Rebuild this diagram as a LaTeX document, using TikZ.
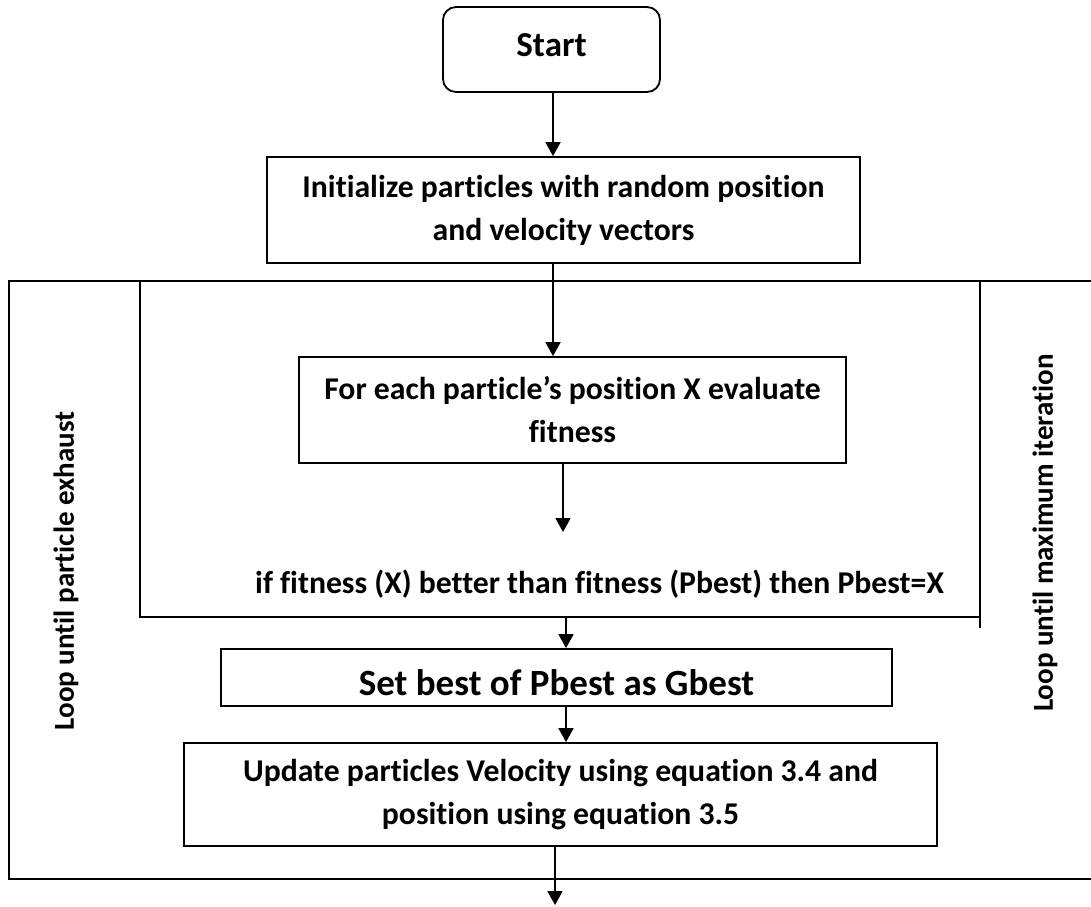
\documentclass[tikz,border=0pt]{standalone}
\usepackage{fontspec}
\setmainfont{Carlito}[Ligatures=NoCommon]
\usetikzlibrary{arrows.meta}
\begin{document}
\begin{tikzpicture}[x=1pt,y=-1pt,
  line width=1.8pt,
  box/.style={draw, rectangle, inner sep=0pt, align=center, font=\bfseries\fontsize{31.7}{43}\selectfont},
  txt/.style={inner sep=0pt, font=\bfseries\fontsize{31.7}{43}\selectfont},
  lab/.style={inner sep=0pt, font=\bfseries\fontsize{29}{35}\selectfont},
  arr/.style={-{Triangle[length=14pt,width=15pt]}},
  ]
\useasboundingbox (0,0) rectangle (1091,906);

% boxes
\node[box, rounded corners=13pt, minimum width=217pt, minimum height=85pt, text height=22.5pt, text depth=8pt, font=\bfseries\fontsize{35}{42}\selectfont] (start) at (551.5,49.5) {Start};
\node[box, minimum width=593pt, minimum height=106pt] (init) at (563.5,210) {Initialize particles with random position\\and velocity vectors};
\node[box, minimum width=547pt, minimum height=106pt] (each) at (572.5,410) {For each particle’s position X evaluate\\fitness};
\node[txt, anchor=base] (cond) at (599.5,593) {if fitness (X) better than fitness (Pbest) then Pbest=X};
\node[box, minimum width=671pt, minimum height=57pt, text height=35pt, text depth=0pt, font=\bfseries\fontsize{37}{44}\selectfont] (gbest) at (556.5,677.5) {Set best of Pbest as Gbest};
\node[box, minimum width=753pt, minimum height=103pt] (update) at (560.5,794.5) {Update particles Velocity using equation 3.4 and\\position using equation 3.5};

% loop labels
\node[lab, rotate=90] (loopp) at (66,571) {Loop until particle exhaust};
\node[lab, rotate=90] (loopm) at (1045,533) {Loop until maximum iteration};

% loop frames
\draw (1091,281) -- (9,281) -- (9,879) -- (1091,879);
\draw (140,281) -- (140,617) -- (980,617);
\draw (980,281) -- (980,628);

% free ends
\coordinate (condin) at (563,532);
\coordinate (innerout) at (566,617);
\coordinate (finish) at (555,905);

% connectors
\draw[arr] ([xshift=1.5pt]start.south) -- ([xshift=1.5pt]start.south |- init.north);
\draw[arr] ([xshift=-10.5pt]init.south) -- ([xshift=-10.5pt]init.south |- each.north);
\draw[arr] (each.south -| condin) -- (condin);
\draw[arr] (innerout) -- (innerout |- gbest.north);
\draw[arr] (gbest.south -| innerout) -- (innerout |- update.north);
\draw[arr] (update.south -| finish) -- (finish);
\end{tikzpicture}
\end{document}
